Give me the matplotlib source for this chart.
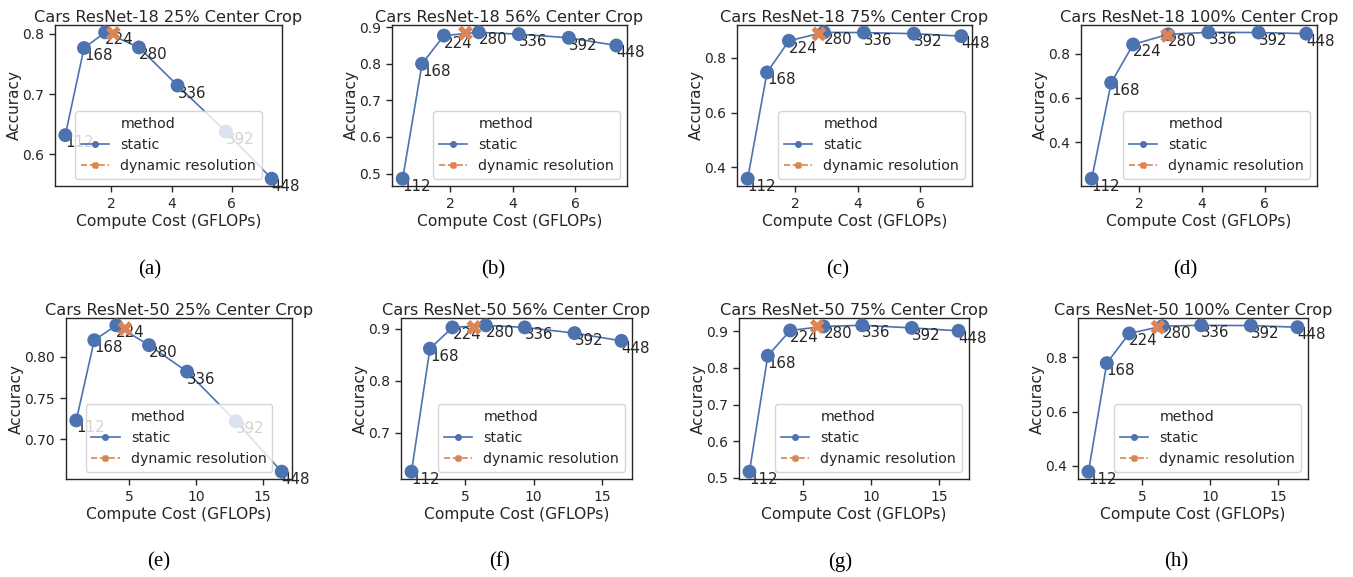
import numpy as np
import matplotlib.pyplot as plt
from matplotlib.lines import Line2D

# resolutions used for the static models
resolutions = [112, 168, 224, 280, 336, 392, 448]

# compute cost (GFLOPs) per resolution
r18_gflops = [0.48, 1.1, 1.8, 2.92, 4.2, 5.8, 7.32]
r50_gflops = [1.05, 2.4, 4.05, 6.5, 9.35, 13.0, 16.44]

# static accuracy per panel
acc_r18_25 = [0.632, 0.776, 0.802, 0.777, 0.714, 0.638, 0.560]
acc_r18_56 = [0.486, 0.800, 0.877, 0.886, 0.881, 0.871, 0.850]
acc_r18_75 = [0.358, 0.747, 0.863, 0.894, 0.893, 0.889, 0.880]
acc_r18_100 = [0.235, 0.669, 0.842, 0.888, 0.897, 0.896, 0.891]
acc_r50_25 = [0.723, 0.820, 0.838, 0.814, 0.782, 0.722, 0.661]
acc_r50_56 = [0.625, 0.862, 0.903, 0.907, 0.903, 0.892, 0.877]
acc_r50_75 = [0.517, 0.833, 0.902, 0.913, 0.916, 0.909, 0.901]
acc_r50_100 = [0.379, 0.778, 0.887, 0.914, 0.917, 0.916, 0.910]

# dynamic resolution result per panel (gflops, accuracy)
dyn_gflops = [2.07, 2.49, 2.76, 2.9, 4.7, 5.63, 6.04, 6.17]
dyn_acc = [0.800, 0.884, 0.888, 0.883, 0.834, 0.903, 0.913, 0.910]

titles = ['Cars ResNet-18 25% Center Crop', 'Cars ResNet-18 56% Center Crop',
          'Cars ResNet-18 75% Center Crop', 'Cars ResNet-18 100% Center Crop',
          'Cars ResNet-50 25% Center Crop', 'Cars ResNet-50 56% Center Crop',
          'Cars ResNet-50 75% Center Crop', 'Cars ResNet-50 100% Center Crop']
captions = ['(a)', '(b)', '(c)', '(d)', '(e)', '(f)', '(g)', '(h)']
static_accs = [acc_r18_25, acc_r18_56, acc_r18_75, acc_r18_100,
               acc_r50_25, acc_r50_56, acc_r50_75, acc_r50_100]

# axes boxes in pixels: left, top, right, bottom
boxes = [(55, 25, 282, 186), (392, 25, 627, 186), (737, 25, 972, 186), (1081, 25, 1317, 186),
         (66, 318, 292, 479), (401, 318, 632, 479), (739, 318, 969, 479), (1078, 318, 1308, 479)]
caption_pos = [(150, 270), (493, 270), (838, 270), (1185, 270),
               (159, 562), (500, 562), (840, 562), (1176, 562)]
legend_locs = ['lower center', 'lower right', 'lower right', 'lower right',
               'lower center', 'lower right', 'lower right', 'lower right']

W, H = 1353, 577
blue = '#4C72B0'
orange = '#DD8452'
dark = '#262626'

fig = plt.figure(figsize=(W / 100, H / 100), dpi=100)

for i in range(8):
    l, t, r, b = boxes[i]
    ax = fig.add_axes([l / W, 1 - b / H, (r - l) / W, (b - t) / H])
    x = r18_gflops if i < 4 else r50_gflops
    y = static_accs[i]

    ax.plot(x, y, color=blue, lw=1.2, zorder=2)
    ax.scatter(x, y, s=100, color=blue, edgecolors='none', zorder=3)
    ax.scatter([dyn_gflops[i]], [dyn_acc[i]], s=115, marker='X', color=orange,
               edgecolors='none', zorder=4)
    for xi, yi, res in zip(x, y, resolutions):
        ax.text(xi, yi, str(res), ha='left', va='top', fontsize=10.8, color=dark, zorder=2.5)

    ax.set_title(titles[i], fontsize=11.6, color=dark, pad=2)
    ax.set_xlabel('Compute Cost (GFLOPs)', fontsize=11.2, color=dark, labelpad=2)
    ax.set_ylabel('Accuracy', fontsize=11, color=dark, labelpad=0)
    ax.tick_params(labelsize=10, colors=dark, length=4.5, width=1)
    for sp in ax.spines.values():
        sp.set_color(dark)
        sp.set_linewidth(1.0)

    handles = [Line2D([], [], linestyle='none', marker=''),
               Line2D([], [], color=blue, lw=1.2, marker='o', markersize=4),
               Line2D([], [], color=orange, lw=1.2, ls='--', marker='X', markersize=4)]
    leg = ax.legend(handles, ['method', 'static', 'dynamic resolution'], loc=legend_locs[i],
                    fontsize=10.2, framealpha=0.8, edgecolor='0.8')
    for txt in leg.get_texts():
        txt.set_color(dark)

    cx, cy = caption_pos[i]
    fig.text(cx / W, 1 - cy / H, captions[i], ha='center', va='center',
             fontsize=15, family='Liberation Serif', color='black')

fig.savefig('out.png', dpi=100)
